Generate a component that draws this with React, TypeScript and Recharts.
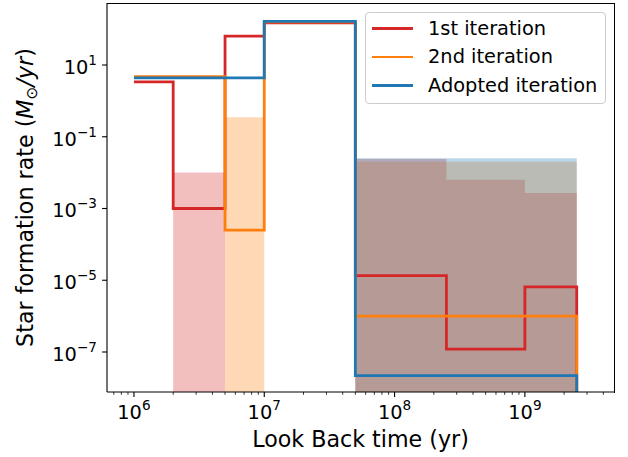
import React from 'react'
import { ComposedChart, Line, Area, XAxis, YAxis, Legend, Label } from 'recharts'

// bin edges of the look back time (yr)
const binEdges = [1e6, 2e6, 5e6, 1e7, 5e7, 2.5e8, 1e9, 2.5e9]

// star formation rate per bin (M_sun / yr)
const sfrFirst = [3.4, 1e-3, 64, 150, 1.35e-5, 1.2e-7, 6.5e-6]
const sfrSecond = [4.7, 4.7, 2.5e-4, 160, 1e-6, 1e-6, 1e-6]
const sfrAdopted = [4.4, 4.4, 4.4, 165, 2.2e-8, 2.2e-8, 2.2e-8]

// upper edge of the shaded band per bin (null = no band)
const bandFirst = [null, 1e-2, null, null, 0.024, 6.3e-3, 2.7e-3]
const bandSecond = [null, null, 0.35, null, 0.02, 0.02, 0.02]
const bandAdopted = [null, null, null, null, 0.025, 0.025, 0.025]

const seriesNames = ['1st iteration', '2nd iteration', 'Adopted iteration']
const seriesColors = ['#d62728', '#ff7f0e', '#1f77b4']

const xMajorTicks = [1e6, 1e7, 1e8, 1e9]
const yMajorTicks = [1e1, 1e-1, 1e-3, 1e-5, 1e-7]

const X_DOMAIN: [number, number] = [6.21e5, 4.83e9]
const Y_DOMAIN: [number, number] = [7.67e-9, 535]
const FLOOR = 1e-12 // "zero" on a log axis, falls below the plot

const FONT = '"DejaVu Sans", sans-serif'

const xMinorTicks: number[] = []
for (let d = 5; d <= 9; d++) {
  for (let m = 2; m <= 9; m++) {
    const v = m * 10 ** d
    if (v > X_DOMAIN[0] && v < X_DOMAIN[1]) xMinorTicks.push(v)
  }
}
const xTicks = [...xMajorTicks, ...xMinorTicks].sort((a, b) => a - b)

function stepLine(values: number[]) {
  const n = values.length
  const pts = values.map((v, i) => ({ x: binEdges[i], y: v }))
  pts.push({ x: binEdges[n], y: values[n - 1] })
  pts.push({ x: binEdges[n], y: FLOOR })
  return pts
}

function bandChunks(tops: (number | null)[]) {
  const chunks: { x: number; band: [number, number] }[][] = []
  let cur: { x: number; band: [number, number] }[] | null = null
  tops.forEach((t, i) => {
    if (t == null) return
    if (!cur) cur = []
    cur.push({ x: binEdges[i], band: [FLOOR, t] })
    if (i === tops.length - 1 || tops[i + 1] == null) {
      cur.push({ x: binEdges[i + 1], band: [FLOOR, t] })
      chunks.push(cur)
      cur = null
    }
  })
  return chunks
}

const isMajor = (v: number) => {
  const e = Math.log10(v)
  return Math.abs(e - Math.round(e)) < 1e-6
}

const expText = (v: number) => {
  const e = Math.round(Math.log10(v))
  return e < 0 ? '\u2212' + -e : String(e)
}

const XTick = ({ x, y, payload }: any) => {
  const major = isMajor(payload.value)
  return (
    <g>
      <line x1={x} x2={x} y1={y} y2={y + (major ? 4.9 : 2.8)} stroke="#000" strokeWidth={major ? 1.1 : 0.8} />
      {major && (
        <text x={x} y={y + 27} textAnchor="middle" fontSize={19.4} fill="#000" fontFamily={FONT}>
          <tspan>10</tspan>
          <tspan fontSize={13.6} dy={-9}>{expText(payload.value)}</tspan>
        </text>
      )}
    </g>
  )
}

const YTick = ({ x, y, payload }: any) => (
  <g>
    <line x1={x - 4.9} x2={x} y1={y} y2={y} stroke="#000" strokeWidth={1.1} />
    <text x={x - 10} y={y + 9} textAnchor="end" fontSize={19.4} fill="#000" fontFamily={FONT}>
      <tspan>10</tspan>
      <tspan fontSize={13.6} dy={-9}>{expText(payload.value)}</tspan>
    </text>
  </g>
)

const XTitle = ({ viewBox }: any) => (
  <text x={viewBox.x + viewBox.width / 2} y={viewBox.y + 55} textAnchor="middle" fontSize={22.2} fill="#000" fontFamily={FONT}>
    Look Back time (yr)
  </text>
)

const YTitle = ({ viewBox }: any) => {
  const cx = viewBox.x + 33
  const cy = viewBox.y + viewBox.height / 2
  return (
    <text x={cx} y={cy} transform={`rotate(-90, ${cx}, ${cy})`} textAnchor="middle" fontSize={22.2} fill="#000" fontFamily={FONT}>
      <tspan>Star formation rate (</tspan>
      <tspan fontStyle="italic">M</tspan>
      <tspan fontSize={15.5} dy={4}>⊙</tspan>
      <tspan fontStyle="italic" dy={-4}>/yr</tspan>
      <tspan>)</tspan>
    </text>
  )
}

const LegendBox = () => (
  <div
    style={{
      position: 'relative',
      boxSizing: 'border-box',
      width: 241,
      height: 92,
      border: '1px solid #cccccc',
      borderRadius: 4,
      background: 'rgba(255,255,255,0.8)',
      fontFamily: FONT,
      fontSize: 19.4,
      color: '#000',
    }}
  >
    {seriesNames.map((name, i) => (
      <div
        key={name}
        style={{ position: 'absolute', left: 0, top: 1.5 + i * 28.35, height: 28.35, display: 'flex', alignItems: 'center' }}
      >
        <div style={{ marginLeft: 6, width: 41, height: 2.8, background: seriesColors[i] }} />
        <span style={{ marginLeft: 15, whiteSpace: 'nowrap', lineHeight: 1 }}>{name}</span>
      </div>
    ))}
  </div>
)

const lines = [sfrFirst, sfrSecond, sfrAdopted]
const bands = [bandFirst, bandSecond, bandAdopted]

export default function App() {
  return (
    <div style={{ position: 'absolute', left: 0, top: 0, width: 628, height: 457, background: '#fff' }}>
      <ComposedChart width={628} height={457} margin={{ top: 3, right: 14, left: 0, bottom: 0 }}>
        <XAxis
          dataKey="x"
          type="number"
          scale="log"
          domain={X_DOMAIN}
          allowDataOverflow
          ticks={xTicks}
          interval={0}
          tick={(p: any) => <XTick {...p} />}
          tickLine={false}
          tickSize={0}
          tickMargin={0}
          height={65}
          axisLine={{ stroke: '#000', strokeWidth: 1.1 }}
        >
          <Label content={XTitle} />
        </XAxis>
        <YAxis
          type="number"
          scale="log"
          domain={Y_DOMAIN}
          allowDataOverflow
          ticks={yMajorTicks}
          interval={0}
          tick={(p: any) => <YTick {...p} />}
          tickLine={false}
          tickSize={0}
          tickMargin={0}
          width={107}
          axisLine={{ stroke: '#000', strokeWidth: 1.1 }}
        >
          <Label content={YTitle} />
        </YAxis>
        {bands.map((tops, s) =>
          bandChunks(tops).map((chunk, c) => (
            <Area
              key={`band-${s}-${c}`}
              data={chunk}
              dataKey="band"
              type="stepAfter"
              fill={seriesColors[s]}
              fillOpacity={0.3}
              stroke="none"
              dot={false}
              activeDot={false}
              isAnimationActive={false}
              legendType="none"
            />
          ))
        )}
        {lines.map((vals, s) => (
          <Line
            key={`line-${s}`}
            data={stepLine(vals)}
            dataKey="y"
            name={seriesNames[s]}
            type="stepAfter"
            stroke={seriesColors[s]}
            strokeWidth={2.8}
            dot={false}
            activeDot={false}
            isAnimationActive={false}
          />
        ))}
        <Legend
          layout="vertical"
          align="center"
          verticalAlign="middle"
          wrapperStyle={{ left: 365, top: 12, width: 241 }}
          content={() => <LegendBox />}
        />
      </ComposedChart>
      {/* top and right spines */}
      <div
        style={{
          position: 'absolute',
          left: 107,
          top: 2.5,
          width: 507.5,
          height: 390,
          boxSizing: 'border-box',
          borderTop: '1px solid #000',
          borderRight: '1px solid #000',
          pointerEvents: 'none',
        }}
      />
    </div>
  )
}
